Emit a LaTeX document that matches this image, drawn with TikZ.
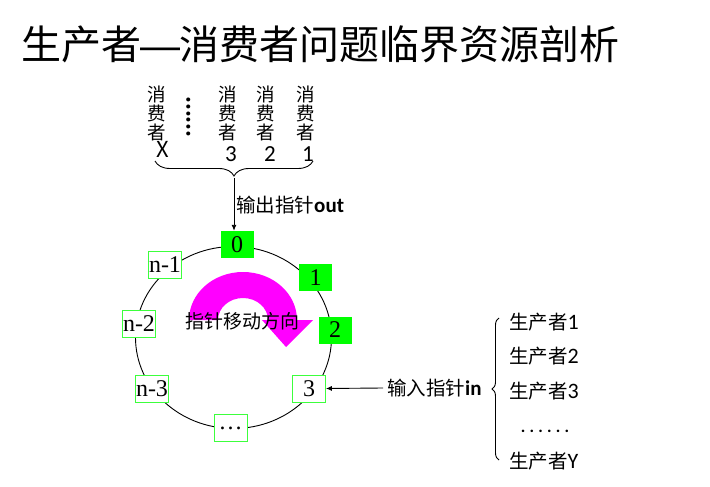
\documentclass[tikz,border=0pt]{standalone}
\usepackage{fontspec}
\setmainfont{Liberation Serif}
\newfontfamily\cjk{Noto Sans CJK SC}
\newfontfamily\lat{Carlito}
\usetikzlibrary{decorations.pathreplacing,arrows.meta}
\definecolor{pinkarrow}{RGB}{255,0,255}
\definecolor{slotgreen}{RGB}{0,255,0}
\definecolor{slotline}{RGB}{60,255,60}
\begin{document}
\begin{tikzpicture}[x=1pt,y=-1pt,
  slot/.style={minimum width=33pt,minimum height=27pt,inner sep=0pt,
    font=\fontsize{24}{24}\selectfont},
  full/.style={slot,fill=slotgreen},
  empty/.style={slot,fill=white,draw=slotline,line width=0.8pt},
  txt/.style={inner sep=0pt,font=\cjk\fontsize{19.5}{19.5}\selectfont},
  col/.style={inner sep=0pt,align=center,font=\cjk\fontsize{18.5}{19}\selectfont},
  digit/.style={inner sep=0pt,font=\lat\fontsize{23}{23}\selectfont},
  link/.style={line width=0.9pt,-{Latex[length=6pt,width=5pt]}},
  bracestyle/.style={line width=0.9pt,decorate},
]
\useasboundingbox (0,0) rectangle (710,487);

% title
\node[inner sep=0pt,font=\cjk\fontsize{40}{40}\selectfont] (title) at (320.5,44)
  {生产者\kern-1pt{\fontspec{Liberation Sans}—}\kern-1pt消费者问题临界资源剖析};

% consumers
\node[col] (cx) at (157,113) {消\\费\\者};
\node[inner sep=0pt,font=\cjk\fontsize{22}{22}\selectfont] (cxd) at (163,149) {X};
\node[col,font=\cjk\bfseries\fontsize{18.5}{19}\selectfont,rotate=90] (cdots) at (189,117) {……};
\node[col] (c3) at (228,113) {消\\费\\者};
\node[digit] (c3d) at (231,154) {3};
\node[col] (c2) at (266,113) {消\\费\\者};
\node[digit] (c2d) at (270,154) {2};
\node[col] (c1) at (306,113) {消\\费\\者};
\node[digit] (c1d) at (308,154) {1};

\coordinate (bl) at (155,161);
\coordinate (br) at (313,161);
\draw[bracestyle,decoration={brace,amplitude=15pt,mirror}] (bl) -- (br);
\coordinate (btip) at (234,178);

% ring
\draw[line width=0.9pt] (233.5,337.5) ellipse [x radius=98, y radius=91];

% magenta direction arrow
\fill[pinkarrow] (189,320) arc[start angle=180,end angle=360,x radius=54,y radius=48]
  -- (313,320) -- (286,347) -- (262,320) -- (268,320)
  arc[start angle=0,end angle=-180,x radius=25,y radius=22] -- cycle;
\node[inner sep=0pt,font=\cjk\fontsize{19}{19}\selectfont] (dir) at (242,321) {指针移动方向};

% slots
\node[full]  (s0)  at (237,244.5) {0};
\node[full]  (s1)  at (315.5,277.5) {1};
\node[full]  (s2)  at (335,330) {2};
\node[empty] (s3)  at (309,388.5) {3};
\node[empty] (sd)  at (230.5,427.5) {\raisebox{-5pt}{\dots}};
\node[empty] (sn3) at (152,388.5) {n-3};
\node[empty] (sn2) at (139,323.5) {n-2};
\node[empty] (sn1) at (165,264.5) {n-1};

% out pointer
\draw[link] (btip) -- (btip |- s0.north);
\node[txt,anchor=west] (outl) at (236,205) {输出指针{\lat\bfseries\fontsize{21}{21}\selectfont out}};

% in pointer
\node[txt,anchor=west] (inl) at (387,388) {输入指针{\lat\bfseries\fontsize{21}{21}\selectfont in}};
\draw[link] ([xshift=-4pt]inl.west) -- (s3.east);

% producers
\coordinate (rt) at (499,318);
\coordinate (rb) at (499,460);
\draw[bracestyle,decoration={brace,amplitude=7pt}] (rb) -- (rt);
\node[txt,anchor=west] (p1) at (509,322) {生产者{\lat\fontsize{22}{22}\selectfont 1}};
\node[txt,anchor=west] (p2) at (509,356) {生产者{\lat\fontsize{22}{22}\selectfont 2}};
\node[txt,anchor=west] (p3) at (509,391) {生产者{\lat\fontsize{22}{22}\selectfont 3}};
\node[inner sep=0pt,font=\lat\bfseries\fontsize{17}{17}\selectfont\addfontfeature{LetterSpace=25}] (pd) at (545,431) {......};
\node[txt,anchor=west] (py) at (509,461) {生产者{\lat\fontsize{22}{22}\selectfont Y}};
\end{tikzpicture}
\end{document}
